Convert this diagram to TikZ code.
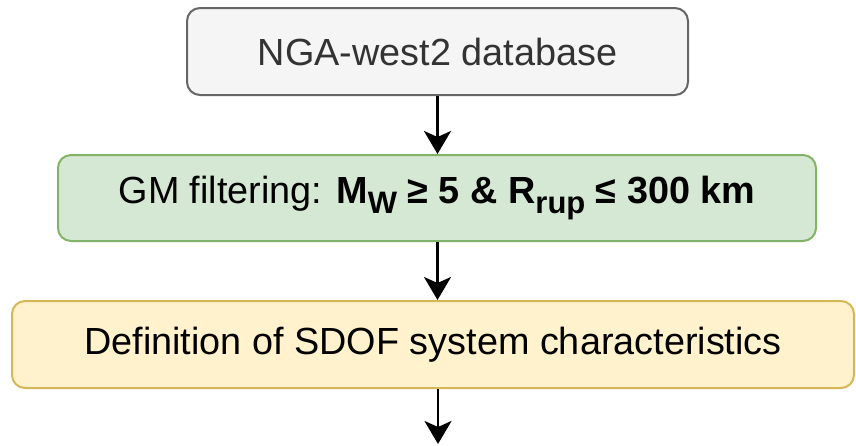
\documentclass[tikz,border=0pt]{standalone}
\usepackage{fontspec}
\setmainfont{Liberation Sans}
\usetikzlibrary{arrows.meta}
\definecolor{grayfill}{HTML}{F5F5F5}
\definecolor{grayline}{HTML}{666666}
\definecolor{greenfill}{HTML}{D5E8D4}
\definecolor{greenline}{HTML}{82B366}
\definecolor{yellowfill}{HTML}{FFF2CC}
\definecolor{yellowline}{HTML}{D6B656}
\definecolor{darktext}{HTML}{333333}
\newcommand\mysub[1]{\raisebox{-0.29em}{\fontsize{31}{33}\selectfont #1}}
\begin{document}
\begin{tikzpicture}[x=1pt,y=-1pt,
  box/.style={draw, line width=2pt, rounded corners=13pt, inner sep=0pt,
    font=\fontsize{37.8}{42}\selectfont},
  flow/.style={line width=2.6pt, -{Stealth[length=23pt,width=27pt,inset=6pt]}}]
\useasboundingbox (0,0) rectangle (856,445);
\node[box, fill=grayfill, draw=grayline, text=darktext, minimum width=501pt, minimum height=87pt] (db) at (437.5,51.5) {NGA-west2 database};
\node[box, fill=greenfill, draw=greenline, minimum width=758pt, minimum height=86pt] (filt) at (437,198) {GM filtering: \textbf{M\mysub{W} ≥ 5 \& R\mysub{rup} ≤ 300 km}};
\node[box, fill=yellowfill, draw=yellowline, minimum width=842pt, minimum height=87pt] (def) at (433,344.5) {Definition of SDOF system characteristics};
\coordinate (end) at (438,444);
\draw[flow] (db.south) -- (db.south |- filt.north);
\draw[flow] (db.south |- filt.south) -- (db.south |- def.north);
\draw[flow] (end |- def.south) -- (end);
\end{tikzpicture}
\end{document}
